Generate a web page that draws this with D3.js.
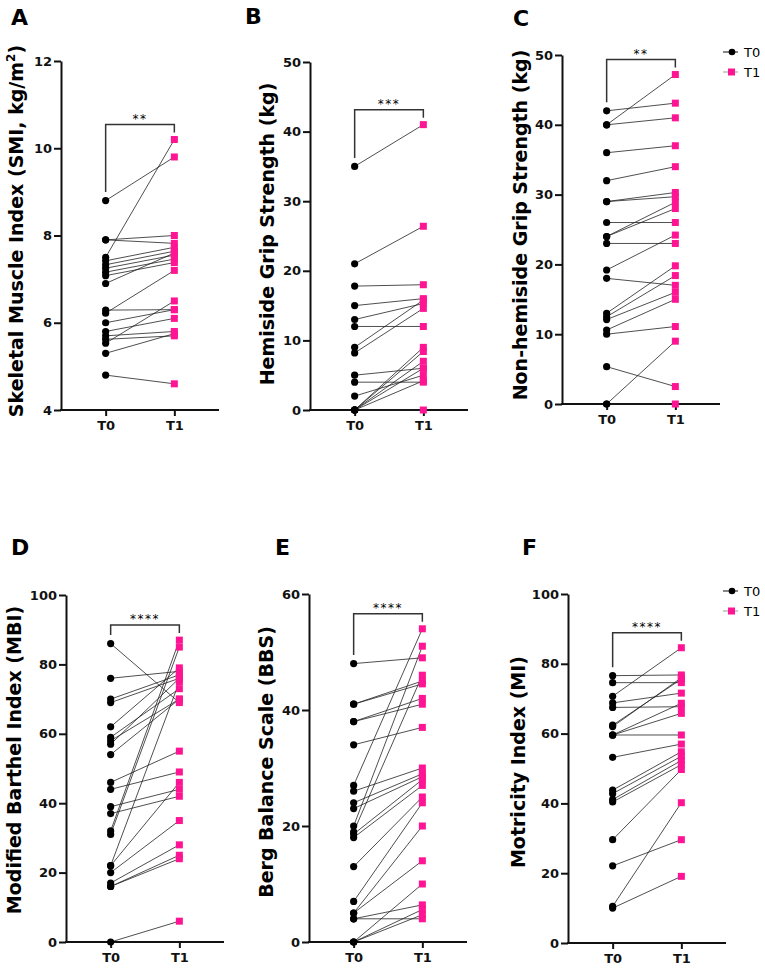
<!DOCTYPE html>
<html>
<head>
<meta charset="utf-8">
<script src="https://cdn.jsdelivr.net/npm/d3@7"></script>
<style>
  body { margin: 0; background: #fff; }
  svg { display: block; }
</style>
</head>
<body>
<svg></svg>
<script>
let width = 765,
  height = 969;

let svg = d3.select("svg")
  .attr("width", width)
  .attr("height", height)
  .style("font-family", "'DejaVu Sans', sans-serif");

const groups = ["T0", "T1"];

// A - skeletal muscle index, paired values (same index = same patient)
const smiT0 = [8.8, 7.5, 7.9, 7.9, 7.42, 7.33, 7.25, 7.16, 7.08, 6.9, 6.29, 6.22, 6.0, 5.8, 5.7, 5.62, 5.53, 5.3, 4.8];
const smiT1 = [9.8, 10.2, 8.0, 7.82, 7.73, 7.64, 7.55, 7.46, 7.38, 7.6, 6.3, 7.2, 6.3, 6.1, 5.8, 5.7, 6.5, 5.75, 4.6];
const smiTicks = [4, 6, 8, 10, 12];

// B - hemiside grip strength
const hgsT0 = [35, 21, 17.8, 15, 13, 12, 9, 8.2, 5, 4, 2, 0, 0, 0, 0, 0, 0];
const hgsT1 = [41, 26.4, 18, 16, 15.3, 12, 15.8, 14.6, 6, 4, 5, 9, 8.4, 7, 6, 4.2, 0];
const hgsTicks = [0, 10, 20, 30, 40, 50];

// C - non-hemiside grip strength
const nhgsT0 = [42, 40, 40, 36, 32, 29, 29, 26, 24, 24, 23, 19.2, 18, 13, 12.5, 12.1, 10.6, 10, 5.35, 0, 0];
const nhgsT1 = [43.1, 47.2, 41, 37, 34, 30.3, 29.7, 26, 28.9, 28, 23, 24.2, 17, 19.8, 18.4, 16, 15, 11.1, 2.5, 9, 0];
const nhgsTicks = [0, 10, 20, 30, 40, 50];

// D - modified Barthel index
const mbiT0 = [86, 76, 70, 69, 62, 59, 58, 57, 54, 46, 44, 39, 37, 32, 31, 22, 22, 20, 17, 16, 16, 0];
const mbiT1 = [69, 78, 77, 76, 79, 73, 70, 76, 70, 55, 49, 44, 42, 87, 85, 75, 46, 35, 28, 25, 24, 6];
const mbiTicks = [0, 20, 40, 60, 80, 100];

// E - Berg balance scale
const bbsT0 = [48, 41, 41, 38, 38, 34, 27, 26, 24, 23, 20, 19, 18.6, 18, 13, 7, 5, 5, 4, 4, 0, 0, 0];
const bbsT1 = [49, 45, 44.5, 42, 41, 37, 54, 30, 29, 28.5, 51, 46, 28, 27, 25, 24, 20, 14, 6.4, 4, 10, 5.6, 4.7];
const bbsTicks = [0, 20, 40, 60];

// F - motricity index
const miT0 = [76.6, 74.6, 70.7, 68.8, 67.5, 62.4, 62, 59.6, 59.6, 59.6, 53.2, 43.8, 42.8, 41.1, 40.4, 29.6, 22.1, 10.5, 10];
const miT1 = [76.8, 74.6, 84.6, 71.6, 67.7, 75.6, 76, 59.6, 68.7, 65.8, 57, 54.8, 53.5, 52.3, 51.1, 49.7, 29.6, 40.2, 19.1];
const miTicks = [0, 20, 40, 60, 80, 100];

const pink = "#ff1493";

const panels = [
  { letter: "A", lx: 11, ly: 25, t0: smiT0, t1: smiT1, ticks: smiTicks, domain: [4, 12],
    ax: 61, top: 61, bottom: 410, tx: 23, ty: 231, stars: "**",
    title: ["Skeletal Muscle Index (SMI, kg/m", "2", ")"] },
  { letter: "B", lx: 245, ly: 24, t0: hgsT0, t1: hgsT1, ticks: hgsTicks, domain: [0, 50],
    ax: 310, top: 62, bottom: 410, tx: 274, ty: 234, stars: "***",
    title: ["Hemiside Grip Strength (kg)"] },
  { letter: "C", lx: 513, ly: 26, t0: nhgsT0, t1: nhgsT1, ticks: nhgsTicks, domain: [0, 50],
    ax: 562, top: 55, bottom: 404, tx: 527, ty: 225, stars: "**", legend: true,
    title: ["Non-hemiside Grip Strength (kg)"] },
  { letter: "D", lx: 11, ly: 555, t0: mbiT0, t1: mbiT1, ticks: mbiTicks, domain: [0, 100],
    ax: 66, top: 595, bottom: 942, tx: 21, ty: 760, stars: "****",
    title: ["Modified Barthel Index (MBI)"] },
  { letter: "E", lx: 275, ly: 555, t0: bbsT0, t1: bbsT1, ticks: bbsTicks, domain: [0, 60],
    ax: 309, top: 594, bottom: 942, tx: 273, ty: 762, stars: "****",
    title: ["Berg Balance Scale (BBS)"] },
  { letter: "F", lx: 522, ly: 555, t0: miT0, t1: miT1, ticks: miTicks, domain: [0, 100],
    ax: 568, top: 594, bottom: 943, tx: 525, ty: 762, stars: "****", legend: true,
    title: ["Motricity Index (MI)"] },
];

panels.forEach((p) => {
  let g = svg.append("g");

  let x = d3.scalePoint().domain(groups).range([p.ax, p.ax + 158]).padding(0.65);
  let y = d3.scaleLinear().domain(p.domain).range([p.bottom, p.top]);

  // panel letter
  g.append("text")
    .attr("x", p.lx)
    .attr("y", p.ly)
    .style("font-weight", "bold")
    .style("font-size", "22px")
    .text(p.letter);

  // y axis title
  let title = g.append("text")
    .attr("transform", "translate(" + p.tx + "," + p.ty + ") rotate(-90)")
    .attr("text-anchor", "middle")
    .style("font-weight", "bold")
    .style("font-size", "19px");
  title.append("tspan").text(p.title[0]);
  if (p.title.length > 1) {
    title.append("tspan").attr("dy", -8).style("font-size", "12px").text(p.title[1]);
    title.append("tspan").attr("dy", 8).text(p.title[2]);
  }

  // axes
  let yAxis = g.append("g")
    .attr("transform", "translate(" + p.ax + ",0)")
    .call(d3.axisLeft(y).tickValues(p.ticks).tickSize(7).tickPadding(2).tickSizeOuter(0));
  let xAxis = g.append("g")
    .attr("transform", "translate(0," + p.bottom + ")")
    .call(d3.axisBottom(x).tickSize(6).tickPadding(5).tickSizeOuter(0));
  [yAxis, xAxis].forEach((a) => {
    a.attr("font-family", null).attr("font-size", null);
    a.select(".domain").attr("stroke", "#111").attr("stroke-width", 2);
    a.selectAll(".tick line").attr("stroke", "#111").attr("stroke-width", 2);
    a.selectAll("text")
      .attr("fill", "#111")
      .style("font-weight", "bold")
      .style("font-size", "13px");
  });
  xAxis.select(".domain").attr("d", "M" + (p.ax - 1) + ",0H" + (p.ax + 158));

  // paired lines
  g.append("g")
    .selectAll("line")
    .data(p.t0.map((v, i) => [v, p.t1[i]]))
    .enter()
    .append("line")
    .attr("x1", x("T0"))
    .attr("x2", x("T1"))
    .attr("y1", (d) => y(d[0]))
    .attr("y2", (d) => y(d[1]))
    .attr("stroke", "#222")
    .attr("stroke-width", 0.8);

  g.append("g")
    .selectAll("circle")
    .data(p.t0)
    .enter()
    .append("circle")
    .attr("cx", x("T0"))
    .attr("cy", (d) => y(d))
    .attr("r", 3.6)
    .attr("fill", "#000");

  g.append("g")
    .selectAll("rect")
    .data(p.t1)
    .enter()
    .append("rect")
    .attr("x", x("T1") - 3.5)
    .attr("y", (d) => y(d) - 3.5)
    .attr("width", 7)
    .attr("height", 7)
    .attr("fill", pink);

  // significance bracket
  let bTop = y(d3.max(p.t1)) - 15;
  let bLeft = y(d3.max(p.t0)) - 8.5;
  g.append("path")
    .attr("d", "M" + x("T0") + "," + bLeft + "V" + bTop + "H" + x("T1") + "V" + (bTop + 8))
    .attr("fill", "none")
    .attr("stroke", "#333")
    .attr("stroke-width", 1.5);
  g.append("text")
    .attr("x", (x("T0") + x("T1")) / 2)
    .attr("y", bTop - 2)
    .attr("text-anchor", "middle")
    .style("font-size", "12px")
    .style("letter-spacing", "1.5px")
    .text(p.stars);

  // legend
  if (p.legend) {
    let lg = g.append("g").attr("transform", "translate(723," + (p.top - 3) + ")");
    groups.forEach((k, i) => {
      let row = lg.append("g").attr("transform", "translate(0," + i * 20 + ")");
      row.append("line")
        .attr("x1", 0).attr("x2", 15)
        .attr("stroke", i == 0 ? "#111" : "#999")
        .attr("stroke-width", 1);
      if (i == 0) {
        row.append("circle").attr("cx", 9).attr("r", 3.3).attr("fill", "#000");
      } else {
        row.append("rect").attr("x", 5).attr("y", -3.5).attr("width", 7).attr("height", 7).attr("fill", pink);
      }
      row.append("text")
        .attr("x", 21)
        .attr("y", 5)
        .style("font-size", "13px")
        .text(k);
    });
  }
});
</script>
</body>
</html>
